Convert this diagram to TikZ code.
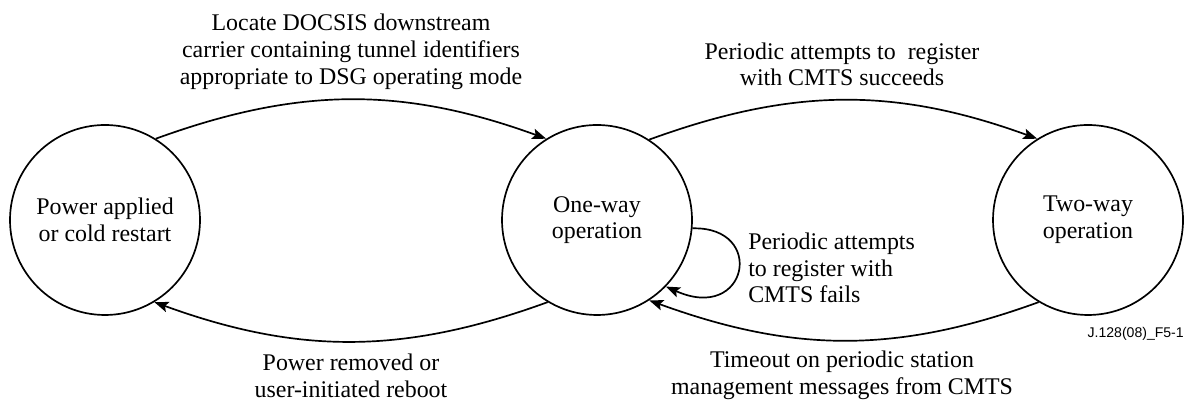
\documentclass[tikz,border=0pt]{standalone}
\usepackage{fontspec}
\setmainfont{Liberation Serif}
\newfontfamily\figfont{Liberation Sans}
\usetikzlibrary{arrows.meta}

\tikzset{
  state/.style={draw, circle, line width=1.2pt, minimum size=4.75cm, inner sep=0pt, align=center},
  arr/.style={line width=1.2pt, -{Stealth[length=10pt,width=7.5pt,inset=2pt]}},
  lbl/.style={align=center, inner sep=0pt}
}

\begin{document}
\begin{tikzpicture}[font=\fontsize{17}{19}\selectfont]
\useasboundingbox (0,0) rectangle (29.6,10);
\node[state] (cold) at (2.625,4.5)  {Power applied\\or cold restart};
\node[state] (oneway) at (14.925,4.5) {One-way\\operation};
\node[state] (twoway) at (27.2,4.5)   {Two-way\\operation};

\draw[arr] (cold.58) to[out=20,in=160] (oneway.122);
\draw[arr] (oneway.-121) to[out=-160,in=-20] (cold.-59);
\draw[arr] (oneway.57) to[out=20,in=160] (twoway.122);
\draw[arr] (twoway.-121) to[out=-160,in=-20] (oneway.-57);
\draw[arr] (oneway.-5) .. controls +(1.85,0.05) and +(2.05,-0.92) .. (oneway.-44);

\node[lbl] (locate) at (8.775,8.7) {Locate DOCSIS downstream\\carrier containing tunnel identifiers\\appropriate to DSG operating mode};
\node[lbl] (succeeds) at (21.05,8.39) {Periodic attempts to\ \ register\\with CMTS succeeds};
\node[lbl, align=left, anchor=west] (fails) at (18.7,3.3) {Periodic attempts\\to register with\\CMTS fails};
\node[lbl] (removed) at (8.775,0.61) {Power removed or\\user-initiated reboot};
\node[lbl] (timeout) at (21.05,0.61) {Timeout on periodic station\\management messages from CMTS};
\node[lbl, anchor=east, font=\figfont\fontsize{10}{12}\selectfont] (figid) at (29.6,1.65) {J.128(08)\_F5-1};
\end{tikzpicture}
\end{document}
